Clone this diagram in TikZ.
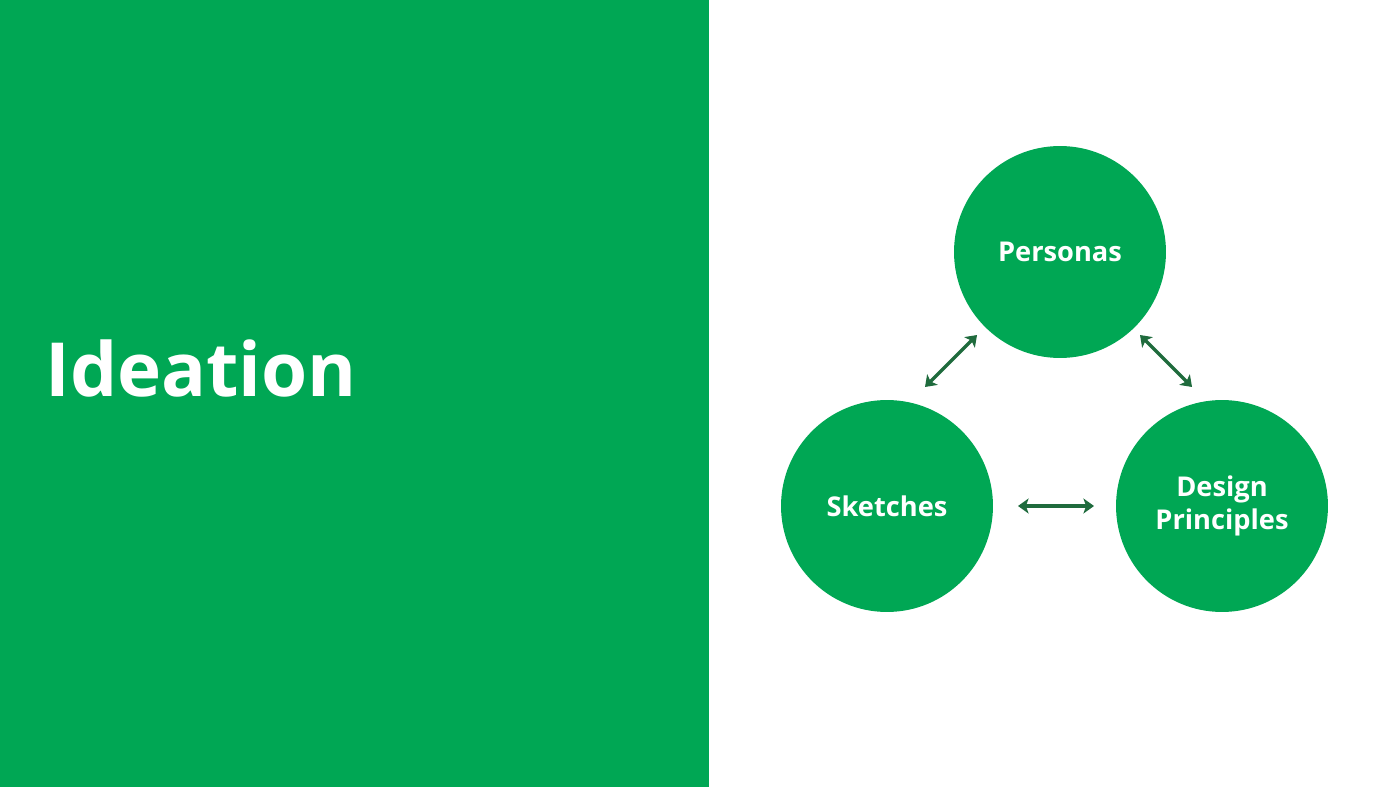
\documentclass[tikz,border=0pt]{standalone}
\usepackage{fontspec}
\setmainfont{Open Sans}
\usetikzlibrary{arrows.meta}
\definecolor{ideagreen}{HTML}{00A754}
\definecolor{arrowgreen}{HTML}{1F6B3D}

\begin{document}
\begin{tikzpicture}[x=0.02cm,y=-0.02cm,
  bubble/.style={circle, fill=ideagreen, minimum size=4.24cm, inner sep=0pt,
    text=white, font=\fontsize{15.5}{18.7}\selectfont\bfseries, align=center},
  link/.style={arrowgreen, line width=1.9pt, {Stealth[length=6pt,width=8.5pt,inset=1.5pt]}-{Stealth[length=6pt,width=8.5pt,inset=1.5pt]}}]
\useasboundingbox (0,0) rectangle (1400,787);
\fill[ideagreen] (0,0) rectangle (709,787);

\node[white,anchor=base west,inner sep=0pt,font=\fontsize{42.5}{50}\selectfont\bfseries] (title) at (45,397) {Ideation};

\node[bubble] (personas) at (1060,252) {Personas};
\node[bubble] (sketches) at (887,506) {Sketches};
\node[bubble] (design) at (1222,506) {Design\\Principles};

% arrow ends
\coordinate (ps1) at (977,335);
\coordinate (ps2) at (925,387);
\coordinate (pd1) at (1140,335);
\coordinate (pd2) at (1192,387);
\coordinate (sd1) at (1018,506);
\coordinate (sd2) at (1094,506);

\draw[link] (ps1) -- (ps2);
\draw[link] (pd1) -- (pd2);
\draw[link] (sd1) -- (sd2);
\end{tikzpicture}
\end{document}
